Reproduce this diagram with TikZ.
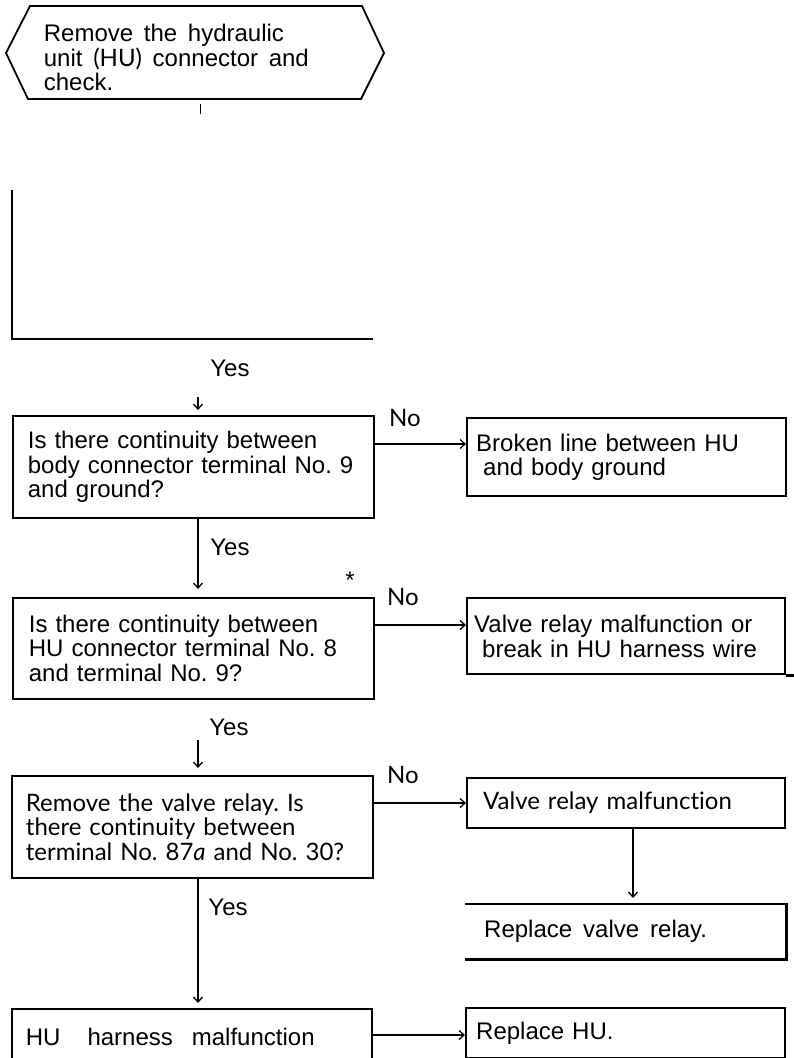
\documentclass[tikz,border=0pt]{standalone}
\usepackage{fontspec}
\setmainfont{Liberation Sans}[WordSpace=1.6]
\newfontfamily\lato{Lato}[Ligatures=NoCommon]
\usetikzlibrary{arrows.meta,positioning,calc}
\frenchspacing
\tikzset{every picture/.style={line width=1.8pt}}
\tikzset{
    txt/.style={font=\fontsize{24}{24.5}\selectfont},
    ltxt/.style={font=\lato\fontsize{24}{24.5}\selectfont},
    lbl/.style={inner sep=0pt},
    qbox/.style={draw, anchor=north west, inner ysep=0pt, align=left},
    rbox/.style={draw, line width=2.4pt, anchor=north west, inner ysep=0pt, align=left},
    arr/.style={line width=1.3pt, -{Straight Barb[length=5pt,width=9pt]}},
}

\begin{document}
\begin{tikzpicture}[x=1pt, y=-1pt]
    \useasboundingbox (0,0) rectangle (794,1058);
    \clip (0,0) rectangle (794,1058);

    \draw (30,6) -- (362,6) -- (384,53) -- (361,99) -- (28,99) -- (6,53) -- cycle;
    \node[txt, lbl, anchor=north west, align=left] (start) at (43,23.5)
        {Remove the hydraulic\\unit {\lato(HU)} connector and\\check.};
    \coordinate (tick) at (200,114);
    \draw[line width=1pt] (200,104) -- (tick);

    \draw (12,190) |- (373,339);

    \coordinate (colA) at (198,0);
    \coordinate (colB) at (633,0);

    \node[qbox, txt, inner xsep=15pt, text width=331pt, minimum height=102pt] (q1) at (12,415)
        {Is there continuity between\\body connector terminal No. 9\\and ground?};
    \node[qbox, txt, inner xsep=16pt, text width=329pt, minimum height=101pt] (q2) at (12,597)
        {Is there continuity between\\HU connector terminal No. 8\\and terminal No. 9?};
    \node[qbox, ltxt, inner xsep=14pt, text width=333pt, minimum height=102pt] (q3) at (11,775)
        {Remove the valve relay. Is\\there continuity between\\terminal No. 87\textit{a} and No. 30?};
    \node[qbox, txt, inner xsep=14pt, text width=332pt, minimum height=56pt] (q4) at (11,1008)
        {HU\hspace{19pt} harness\hspace{11pt} malfunction};

    \node[rbox, txt, inner xsep=9pt, text width=301pt, minimum height=78pt] (r1) at (466,417)
        {Broken line between HU\\\hspace*{7pt}and body ground};
    \node[rbox, txt, inner xsep=7pt, text width=304pt, minimum height=76pt] (r2) at (466,597)
        {Valve relay malfunction or\\\hspace*{8pt}break in HU harness wire};
    \draw[line width=2.4pt] (r2.south east) -- ++(10,0);
    \node[rbox, ltxt, inner xsep=16pt, text width=286pt, minimum height=50pt] (r3) at (466,777)
        {Valve relay malfunction};
    \node[rbox, txt, draw=none, inner xsep=18pt, text width=283pt, minimum height=53pt] (r4) at (465,904)
        {Replace\hspace{3pt} valve\hspace{3pt} relay.};
    \draw[line width=2.4pt] (r4.north west) -- (r4.north east) -- (r4.south east) -- (r4.south west);
    \node[rbox, txt, inner xsep=10pt, text width=299pt, minimum height=50pt] (r5) at (465,1007)
        {Replace HU.};

    \node[txt, lbl] (yes0) at (230,368) {Yes};
    \node[txt, lbl] (yes1) at (230,547) {Yes};
    \node[txt, lbl] (yes2) at (229,727) {Yes};
    \node[txt, lbl] (yes3) at (228,907) {Yes};
    \node[txt, lbl] (star) at (350,580) {*};
    \node[ltxt, lbl] (no1) at (405,418) {No};
    \node[ltxt, lbl] (no2) at (403,597) {No};
    \node[ltxt, lbl] (no3) at (403,775) {No};

    \coordinate (a1) at (198,397);
    \draw[arr, shorten >=5pt] (a1) -- (a1 |- q1.north);
    \draw[arr, shorten >=8pt] (q1.south -| colA) -- (q2.north -| colA);
    \coordinate (a2) at (198,740);
    \draw[arr, shorten >=7pt] (a2) -- (a2 |- q3.north);
    \draw[arr, shorten >=5pt] (q3.south -| colA) -- (q4.north -| colA);
    \draw[arr, shorten >=6pt] (r3.south -| colB) -- (r4.north -| colB);

    \coordinate (n1) at ([yshift=-29pt]q1.north east);
    \draw[arr] (n1) -- (n1 -| r1.west);
    \coordinate (n2) at ([yshift=-28pt]q2.north east);
    \draw[arr] (n2) -- (n2 -| r2.west);
    \coordinate (n3) at ([yshift=-28pt]q3.north east);
    \draw[arr] (n3) -- (n3 -| r3.west);
    \coordinate (n4) at ([yshift=-27pt]q4.north east);
    \draw[arr] (n4) -- (n4 -| r5.west);
\end{tikzpicture}
\end{document}
